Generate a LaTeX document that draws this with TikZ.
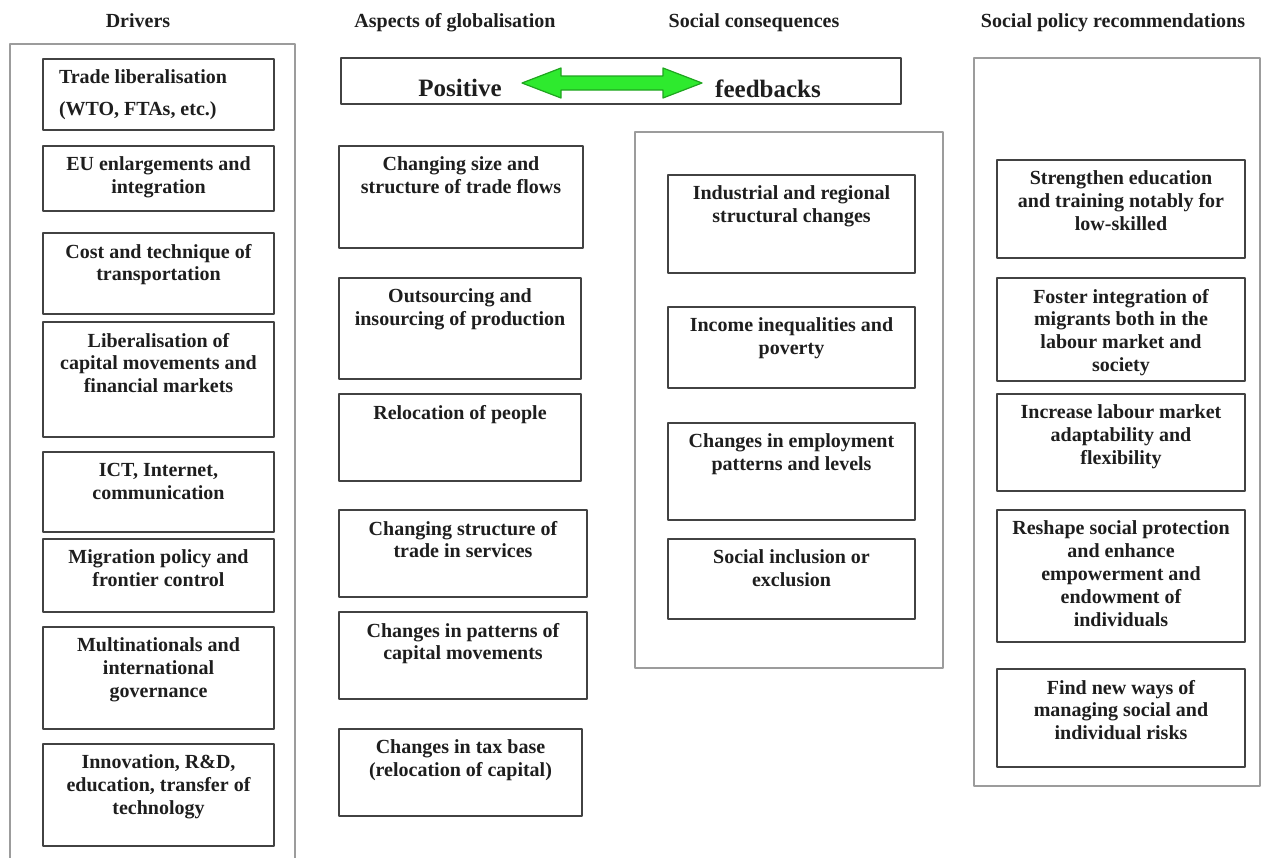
\documentclass[tikz,border=0pt]{standalone}
\usepackage{fontspec}
\setmainfont{Liberation Serif}
\definecolor{framegray}{HTML}{9C9C9C}
\definecolor{boxgray}{HTML}{424242}
\definecolor{inkgray}{HTML}{1E1E1E}
\definecolor{arrowgreen}{HTML}{2EEA2E}
\definecolor{arrowedge}{HTML}{1FA51F}
\newdimen\pxu \pxu=0.5pt
% box contents: width, height (in px), text set from the top
\newcommand{\cellbox}[3]{\parbox[t][#2\pxu][t]{#1\pxu}{\centering\vspace*{5.5pt}#3}}

\begin{document}
\begin{tikzpicture}[x=0.5pt, y=-0.5pt, line join=round,
    frame/.style={draw=framegray, line width=1.1pt},
    box/.style={draw=boxgray, line width=1pt, inner sep=0pt, anchor=north west, text=inkgray,
        font=\fontsize{10}{11.4}\selectfont\bfseries},
    head/.style={anchor=base, text=inkgray, font=\fontsize{10}{12}\selectfont\bfseries},
    big/.style={anchor=base, text=inkgray, font=\fontsize{12.5}{15}\selectfont\bfseries}]
    \useasboundingbox (0,0) rectangle (1263,857);

    % column heads
    \node[head] (hdrivers) at (138,27) {Drivers};
    \node[head] (haspects) at (455,27) {Aspects of globalisation};
    \node[head] (hconseq) at (754,27) {Social consequences};
    \node[head] (hpolicy) at (1113,27) {Social policy recommendations};

    % outer frames
    \draw[frame] (10,870) -- (10,44) -- (295,44) -- (295,870);
    \draw[frame] (635,132) rectangle (943,668);
    \draw[frame] (974,58) rectangle (1260,786);

    % feedback banner
    \draw[draw=boxgray, line width=1pt] (341,58) rectangle (901,104);
    \filldraw[fill=arrowgreen, draw=arrowedge, line width=0.6pt]
        (522,83) -- (561,68) -- (561,76) -- (663,76) -- (663,68) -- (702,83)
        -- (663,98) -- (663,90) -- (561,90) -- (561,98) -- cycle;
    \node[big] (positive) at (460,96) {Positive};
    \node[big] (feedbacks) at (768,97) {feedbacks};

    % drivers
    \node[box] (d1) at (42,58) {\cellbox{231}{71}{\raggedright\leftskip=8pt Trade liberalisation\\[4.6pt](WTO, FTAs, etc.)}};
    \node[box] (d2) at (42,145) {\cellbox{231}{65}{EU enlargements and\\integration}};
    \node[box] (d3) at (42,232) {\cellbox{231}{81}{Cost and technique of\\transportation}};
    \node[box] (d4) at (42,321) {\cellbox{231}{115}{Liberalisation of\\capital movements and\\financial markets}};
    \node[box] (d5) at (42,451) {\cellbox{231}{80}{ICT, Internet,\\communication}};
    \node[box] (d6) at (42,538) {\cellbox{231}{73}{Migration policy and\\frontier control}};
    \node[box] (d7) at (42,626) {\cellbox{231}{102}{Multinationals and\\international\\governance}};
    \node[box] (d8) at (42,743) {\cellbox{231}{102}{Innovation, R\&D,\\education, transfer of\\technology}};

    % aspects of globalisation
    \node[box] (a1) at (338,145) {\cellbox{244}{102}{Changing size and\\structure of trade flows}};
    \node[box] (a2) at (338,277) {\cellbox{242}{101}{Outsourcing and\\insourcing of production}};
    \node[box] (a3) at (338,393) {\cellbox{242}{87}{Relocation of people}};
    \node[box] (a4) at (338,509) {\cellbox{248}{87}{Changing structure of\\trade in services}};
    \node[box] (a5) at (338,611) {\cellbox{248}{87}{Changes in patterns of\\capital movements}};
    \node[box] (a6) at (338,728) {\cellbox{243}{87}{Changes in tax base\\(relocation of capital)}};

    % social consequences
    \node[box] (s1) at (667,174) {\cellbox{247}{98}{Industrial and regional\\structural changes}};
    \node[box] (s2) at (667,306) {\cellbox{247}{81}{Income inequalities and\\poverty}};
    \node[box] (s3) at (667,422) {\cellbox{247}{97}{Changes in employment\\patterns and levels}};
    \node[box] (s4) at (667,538) {\cellbox{247}{80}{Social inclusion or\\exclusion}};

    % policy recommendations
    \node[box] (p1) at (996,159) {\cellbox{248}{98}{Strengthen education\\and training notably for\\low-skilled}};
    \node[box] (p2) at (996,277) {\cellbox{248}{103}{Foster integration of\\migrants both in the\\labour market and\\society}};
    \node[box] (p3) at (996,393) {\cellbox{248}{97}{Increase labour market\\adaptability and\\flexibility}};
    \node[box] (p4) at (996,509) {\cellbox{248}{132}{Reshape social protection\\and enhance\\empowerment and\\endowment of\\individuals}};
    \node[box] (p5) at (996,668) {\cellbox{248}{98}{Find new ways of\\managing social and\\individual risks}};
\end{tikzpicture}
\end{document}
